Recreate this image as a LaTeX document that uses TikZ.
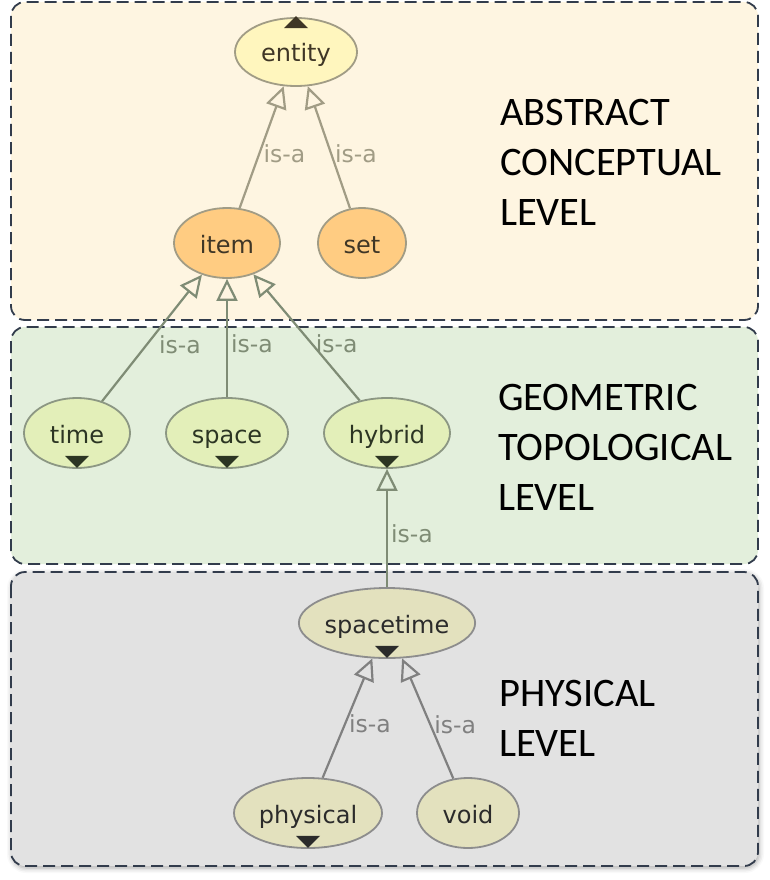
\documentclass[tikz,border=0pt]{standalone}
\usepackage{fontspec}
\setmainfont{DejaVu Sans}
\newfontfamily\levelfont{Carlito}
\usetikzlibrary{arrows.meta,shapes.geometric,shadows.blur}

\definecolor{absbg}{HTML}{FEF5E1}
\definecolor{geobg}{HTML}{E3EFDC}
\definecolor{phybg}{HTML}{E2E2E2}
\definecolor{frame}{HTML}{323C4C}
\definecolor{entfill}{HTML}{FFF6BE}
\definecolor{itemfill}{HTML}{FFCC82}
\definecolor{geofill}{HTML}{E3EFB9}
\definecolor{phyfill}{HTML}{E3E1BE}
\definecolor{absline}{HTML}{A19C85}
\definecolor{geoline}{HTML}{7F8C75}
\definecolor{phyline}{HTML}{808080}
\definecolor{abstext}{HTML}{3F3626}
\definecolor{geotext}{HTML}{2C3523}
\definecolor{phytext}{HTML}{2B2B2B}

\begin{document}
\begin{tikzpicture}[
    x=1pt, y=-1pt,
    panel/.style={draw=frame, line width=1.8pt, dash pattern=on 12pt off 6pt, rounded corners=14pt},
    level/.style={anchor=north west, inner sep=0pt, align=left, font=\levelfont\fontsize{40.5}{50}\selectfont, text=black},
    concept/.style={ellipse, draw, line width=1.8pt, inner sep=0pt, font=\fontsize{24}{24}\selectfont, text height=20pt, text depth=0pt},
    absnode/.style={concept, draw=absline, text=abstext},
    geonode/.style={concept, draw=geoline!90, text=geotext, fill=geofill},
    phynode/.style={concept, draw=phyline!90, text=phytext, fill=phyfill},
    isa/.style={-{Triangle[open, length=22pt, width=21pt]}, line width=2.2pt},
    lbl/.style={right, font=\fontsize{23.5}{24}\selectfont, inner sep=3pt}
]
\useasboundingbox (0,0) rectangle (769,880);

% level panels
\draw[panel, fill=absbg] (11,2) rectangle (758,320);
\draw[panel, fill=geobg] (11,327) rectangle (758,564);
\draw[panel, fill=phybg, blur shadow={shadow xshift=1pt, shadow yshift=-2pt, shadow blur radius=5pt, shadow opacity=35}] (11,572) rectangle (758,866);

\node[level] (abslevel) at (500,99) {ABSTRACT\\CONCEPTUAL\\LEVEL};
\node[level] (geolevel) at (498,384) {GEOMETRIC\\TOPOLOGICAL\\LEVEL};
\node[level] (phylevel) at (499,680) {PHYSICAL\\LEVEL};

% concepts
\node[absnode, fill=entfill, minimum width=122pt, minimum height=68pt] (entity) at (296,52) {entity};
\node[absnode, fill=itemfill, minimum width=106pt, minimum height=70pt] (item) at (227,243) {item};
\node[absnode, fill=itemfill, minimum width=88pt, minimum height=70pt] (set) at (362,243) {set};
\node[geonode, minimum width=106pt, minimum height=70pt] (time) at (77,433) {time};
\node[geonode, minimum width=122pt, minimum height=70pt] (space) at (227,433) {space};
\node[geonode, minimum width=126pt, minimum height=70pt] (hybrid) at (387,433) {hybrid};
\node[phynode, minimum width=176pt, minimum height=70pt] (spacetime) at (387,623) {spacetime};
\node[phynode, minimum width=148pt, minimum height=70pt] (physical) at (308,813) {physical};
\node[phynode, minimum width=102pt, minimum height=70pt] (void) at (468,813) {void};

% expand markers
\fill[abstext] (entity.north) ++(-12,11) -- ++(24,0) -- ++(-12,-12) -- cycle;
\foreach \n/\c in {time/geotext, space/geotext, hybrid/geotext, spacetime/phytext, physical/phytext}
    \fill[\c] (\n.south) ++(-12,-13) -- ++(24,0) -- ++(-12,12) -- cycle;

% is-a links
\draw[isa, absline] (item) -- node[lbl, text=absline, pos=0.45]{is-a} (entity);
\draw[isa, absline] (set) -- node[lbl, text=absline, pos=0.45]{is-a} (entity);
\draw[isa, geoline] (time) -- node[lbl, text=geoline, pos=0.45, xshift=8pt]{is-a} (item);
\draw[isa, geoline] (space) -- node[lbl, text=geoline, pos=0.45]{is-a} (item);
\draw[isa, geoline] (hybrid) -- node[lbl, text=geoline, pos=0.45]{is-a} (item);
\draw[isa, geoline] (spacetime) -- node[lbl, text=geoline, pos=0.45]{is-a} (hybrid);
\draw[isa, phyline] (physical) -- node[lbl, text=phyline, pos=0.45]{is-a} (spacetime);
\draw[isa, phyline] (void) -- node[lbl, text=phyline, pos=0.45]{is-a} (spacetime);

\end{tikzpicture}
\end{document}
